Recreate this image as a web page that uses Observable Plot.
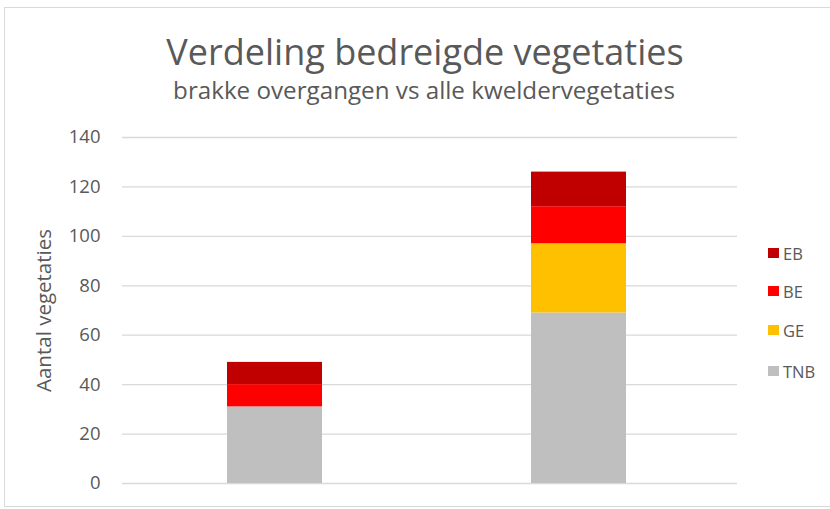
<!DOCTYPE html>
<html><head><meta charset="utf-8">
<script src="https://cdn.jsdelivr.net/npm/d3@7"></script>
<script src="https://cdn.jsdelivr.net/npm/@observablehq/plot@0.6"></script>
<style>
html,body{margin:0;padding:0;background:#fff;overflow:hidden;}
#wrap{position:relative;width:830px;height:509px;font-family:"Open Sans",sans-serif;color:#595959;overflow:hidden;}
#frame{position:absolute;left:4px;top:7px;width:840px;height:500px;border:1px solid #d9d9d9;box-sizing:border-box;}
#title{position:absolute;left:0;width:850px;top:30px;text-align:center;font-size:36px;line-height:44px;white-space:nowrap;}
#subtitle{position:absolute;left:0;width:848px;top:75px;text-align:center;font-size:24.2px;line-height:30px;white-space:nowrap;}
#chart{position:absolute;left:0;top:120px;}
#legend{position:absolute;left:768px;top:0;}
.li{position:absolute;left:0;display:flex;align-items:center;white-space:nowrap;font-size:16.5px;height:20px;}
.sw{width:11px;height:10px;margin-right:4px;}
</style>
</head><body>
<div id="wrap">
  <div id="frame"></div>
  <div id="title"></div>
  <div id="subtitle"></div>
  <div id="chart"></div>
  <div id="legend"></div>
</div>
<script>
const titleText = "Verdeling bedreigde vegetaties";
const subtitleText = "brakke overgangen vs alle kweldervegetaties";
const yLabel = "Aantal vegetaties";
const categories = ["brakke overgangen", "alle kweldervegetaties"];
const series = ["TNB", "GE", "BE", "EB"];
const TNB = [31, 69];
const GE = [0, 28];
const BE = [9, 15];
const EB = [9, 14];
const colors = ["#BFBFBF", "#FFC000", "#FF0000", "#C00000"];
const yTicks = [0, 20, 40, 60, 80, 100, 120, 140];
const legendOrder = ["EB", "BE", "GE", "TNB"];

const valuesBySeries = {TNB, GE, BE, EB};
const rows = [];
series.forEach(s => categories.forEach((c, i) => rows.push({category: c, series: s, value: valuesBySeries[s][i]})));

document.getElementById("title").textContent = titleText;
document.getElementById("subtitle").textContent = subtitleText;

const chart = Plot.plot({
  width: 830,
  height: 380,
  marginLeft: 122,
  marginRight: 93,
  marginTop: 17,
  marginBottom: 17,
  style: {fontFamily: "Open Sans", fontSize: "18.5px", color: "#595959", background: "transparent"},
  x: {domain: categories, range: [122, 730], paddingInner: 0.689, paddingOuter: 0.342, axis: null},
  y: {domain: [0, 140]},
  color: {domain: series, range: colors},
  marks: [
    Plot.gridY(yTicks, {stroke: "#d9d9d9", strokeOpacity: 1, strokeWidth: 1.3}),
    Plot.axisY(yTicks, {tickSize: 0, tickPadding: 22, fontSize: 18.5, label: null}),
    Plot.text([yLabel], {frameAnchor: "left", textAnchor: "middle", dx: -78, rotate: -90, fontSize: 20.5, fill: "#595959"}),
    Plot.barY(rows, {x: "category", y: "value", fill: "series"})
  ]
});
document.getElementById("chart").appendChild(chart);

const legend = document.getElementById("legend");
const legendTops = [243, 281, 320, 361];
legendOrder.forEach((s, i) => {
  const d = document.createElement("div");
  d.className = "li";
  d.style.top = legendTops[i] + "px";
  const sw = document.createElement("span");
  sw.className = "sw";
  sw.style.background = colors[series.indexOf(s)];
  const t = document.createElement("span");
  t.textContent = s;
  d.appendChild(sw); d.appendChild(t);
  legend.appendChild(d);
});
</script>
</body></html>
